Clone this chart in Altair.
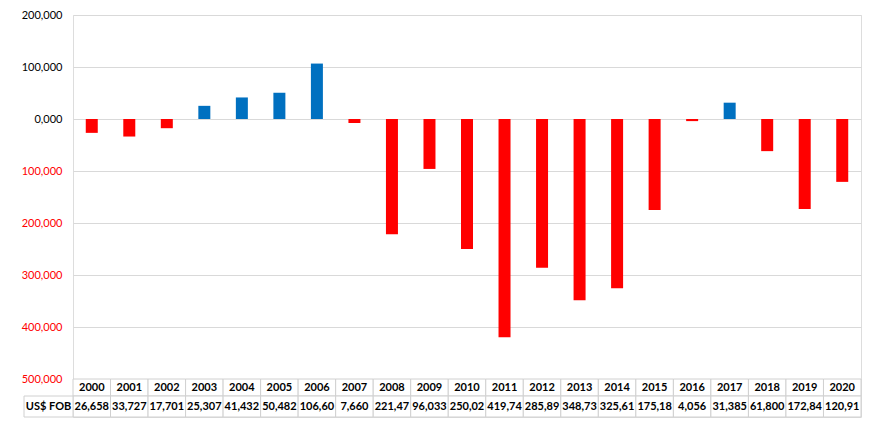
import altair as alt
import pandas as pd

years = [str(y) for y in range(2000, 2021)]
values = [-26658, -33727, -17701, 25307, 41432, 50482, 106600, -7660, -221470, -96033,
          -250020, -419740, -285890, -348730, -325610, -175180, -4056, 31385, -61800,
          -172840, -120910]
table_labels = ["26,658", "33,727", "17,701", "25,307", "41,432", "50,482", "106,60",
                "7,660", "221,47", "96,033", "250,02", "419,74", "285,89", "348,73",
                "325,61", "175,18", "4,056", "31,385", "61,800", "172,84", "120,91"]
row_header = ["US$ FOB"]
y_ticks = [200000, 100000, 0, -100000, -200000, -300000, -400000, -500000]

df = pd.DataFrame({"year": years, "value": values, "label": table_labels})
df["sign"] = ["pos" if v > 0 else "neg" for v in values]

FONT = "Lato"
GRID = "#D9D9D9"
W = 788

xscale = alt.Scale(domain=years, paddingInner=0, paddingOuter=0)

bars = alt.Chart(df).mark_bar(size=12).encode(
    x=alt.X("year:N", scale=xscale, axis=None),
    y=alt.Y("value:Q",
            scale=alt.Scale(domain=[-500000, 200000], nice=False, zero=True),
            axis=alt.Axis(values=y_ticks, title=None, ticks=False, domain=False,
                          grid=True, gridColor=GRID, gridWidth=1,
                          labelFont=FONT, labelFontSize=11, labelPadding=11,
                          minExtent=59,
                          labelExpr="datum.value == 0 ? '0,000' : format(abs(datum.value), ',')",
                          labelColor=alt.expr("datum.value < 0 ? '#FF0000' : '#000000'"))),
    color=alt.Color("sign:N", scale=alt.Scale(domain=["pos", "neg"], range=["#0070C0", "#FF0000"]),
                    legend=None),
).properties(width=W, height=364)

base = alt.Chart(df).encode(x=alt.X("year:N", scale=xscale, axis=None))

header_row = alt.layer(
    base.mark_rect(fill="white", stroke="#D0D0D0", strokeWidth=1),
    base.mark_text(font=FONT, fontSize=11, fontWeight="bold", color="#000000").encode(text="year:N"),
).properties(width=W, height=17)

hdr = alt.Chart(pd.DataFrame({"h": row_header}))
value_row = alt.layer(
    base.mark_rect(fill="white", stroke="#D0D0D0", strokeWidth=1),
    base.mark_text(font=FONT, fontSize=11, fontWeight="bold", color="#000000").encode(text="label:N"),
    hdr.mark_rect(fill="white", stroke="#D0D0D0", strokeWidth=1).encode(x=alt.value(-49), x2=alt.value(0)),
    hdr.mark_text(font=FONT, fontSize=11, fontWeight="bold", color="#000000").encode(
        x=alt.value(-24.5), text="h:N"),
).properties(width=W, height=21)

chart = alt.vconcat(bars, header_row, value_row, spacing=0, bounds="flush").properties(
    padding={"left": 5, "top": 0, "right": 5, "bottom": 0}
).configure_view(stroke=None).configure(background="white")

chart.save("out.html", embed_options={"renderer": "svg", "actions": False})
